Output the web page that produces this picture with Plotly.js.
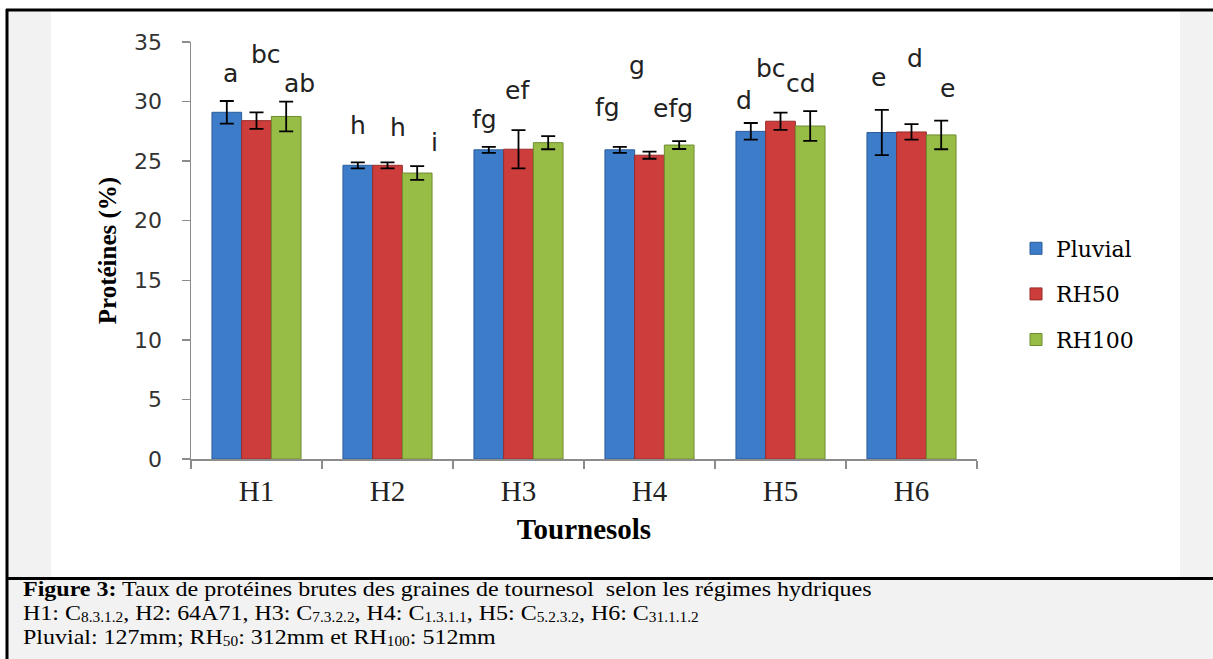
<!DOCTYPE html>
<html>
<head>
<meta charset="utf-8">
<script src="https://cdn.plot.ly/plotly-3.0.1.min.js"></script>
<style>
html,body{margin:0;padding:0;background:#fff;}
#wrap{position:relative;width:1213px;height:659px;overflow:hidden;}
#chart{position:absolute;left:0;top:0;width:1213px;height:659px;}
#caption{position:absolute;left:23px;top:577px;font-family:'Liberation Serif',serif;font-size:22px;line-height:24px;color:#000;white-space:pre;transform:scaleX(1.09);transform-origin:0 0;}
#caption sub{font-size:64%;vertical-align:-0.16em;line-height:0;}
</style>
</head>
<body>
<div id="wrap">
<div id="chart"></div>
<div id="caption"><div><b>Figure 3:</b> Taux de protéines brutes des graines de tournesol  selon les régimes hydriques</div><div>H1: C<sub>8.3.1.2</sub>, H2: 64A71, H3: C<sub>7.3.2.2</sub>, H4: C<sub>1.3.1.1</sub>, H5: C<sub>5.2.3.2</sub>, H6: C<sub>31.1.1.2</sub></div><div>Pluvial: 127mm; RH<sub>50</sub>: 312mm et RH<sub>100</sub>: 512mm</div></div>
</div>
<script>
// ---- data ----
const categories = ['H1', 'H2', 'H3', 'H4', 'H5', 'H6'];
const seriesNames = ['Pluvial', 'RH50', 'RH100'];
const pluvial    = [29.1, 24.65, 25.95, 25.95, 27.5, 27.4];
const pluvialErr = [0.95, 0.25, 0.25, 0.25, 0.7, 1.9];
const rh50       = [28.4, 24.65, 26.0, 25.5, 28.35, 27.45];
const rh50Err    = [0.7, 0.25, 1.6, 0.3, 0.72, 0.65];
const rh100      = [28.75, 24.0, 26.55, 26.35, 27.95, 27.2];
const rh100Err   = [1.25, 0.58, 0.55, 0.33, 1.25, 1.2];
const lettersPluvial = ['a', 'h', 'fg', 'fg', 'd', 'e'];
const lettersRH50    = ['bc', 'h', 'ef', 'g', 'bc', 'd'];
const lettersRH100   = ['ab', 'i', '', 'efg', 'cd', 'e'];
const yTicks = [0, 5, 10, 15, 20, 25, 30, 35];

// ---- label placement (layout, not data) ----
const labelDx = [
  [-0.20, -0.225, -0.26, -0.32, -0.28, -0.25],
  [0.07, 0.08, -0.01, -0.095, -0.07, 0.03],
  [0.33, 0.36, 0, 0.18, 0.16, 0.275]
];
const labelY = [
  [32.32, 28.02, 28.52, 29.53, 30.12, 32.05],
  [33.95, 27.85, 30.93, 33.05, 32.8, 33.58],
  [31.48, 26.6, 0, 29.39, 31.48, 31.06]
];

const values = [pluvial, rh50, rh100];
const errors = [pluvialErr, rh50Err, rh100Err];
const letters = [lettersPluvial, lettersRH50, lettersRH100];
const fills = ['#3d7cc9', '#cd3d3b', '#98bd47'];
const edges = ['#2a5c9a', '#982c2a', '#6e8c2f'];

const traces = seriesNames.map((name, i) => ({
  type: 'bar',
  name: name,
  x: categories,
  y: values[i],
  legendgroup: 'g' + i,
  marker: {color: fills[i], line: {color: edges[i], width: 1}},
  error_y: {type: 'data', array: errors[i], visible: true, color: '#000', thickness: 1.8, width: 7}
}));

// pixel -> paper helpers for the decorative frame
const L = 191, R = 977, T = 42, B = 459;
const px2x = p => (p - L) / (R - L);
const px2y = p => (B - p) / (B - T);

const annotations = [];
letters.forEach((arr, s) => {
  arr.forEach((t, c) => {
    if (!t) return;
    annotations.push({
      x: c + labelDx[s][c], y: labelY[s][c], xref: 'x', yref: 'y',
      text: t, showarrow: false, xanchor: 'center', yanchor: 'middle',
      font: {family: 'DejaVu Sans', size: 25, color: '#222'}
    });
  });
});

const shapes = [
  {type: 'rect', xref: 'paper', yref: 'paper', x0: px2x(8), x1: px2x(51), y0: px2y(578), y1: px2y(11), fillcolor: '#f2f2f2', line: {width: 0}, layer: 'below'},
  {type: 'rect', xref: 'paper', yref: 'paper', x0: px2x(1180), x1: px2x(1214), y0: px2y(578), y1: px2y(11), fillcolor: '#f2f2f2', line: {width: 0}, layer: 'below'},
  {type: 'rect', xref: 'paper', yref: 'paper', x0: px2x(8), x1: px2x(1214), y0: px2y(660), y1: px2y(578), fillcolor: '#f2f2f2', line: {width: 0}, layer: 'below'},
  {type: 'line', xref: 'paper', yref: 'paper', x0: px2x(6), x1: px2x(1214), y0: px2y(10), y1: px2y(10), line: {color: '#000', width: 3}},
  {type: 'line', xref: 'paper', yref: 'paper', x0: px2x(7), x1: px2x(7), y0: px2y(9), y1: px2y(660), line: {color: '#000', width: 3}},
  {type: 'line', xref: 'paper', yref: 'paper', x0: px2x(6), x1: px2x(1214), y0: px2y(578.5), y1: px2y(578.5), line: {color: '#000', width: 3}}
];

const layout = {
  width: 1213, height: 659,
  margin: {l: L, r: 1213 - R, t: T, b: 659 - B, pad: 0},
  paper_bgcolor: '#ffffff',
  plot_bgcolor: 'rgba(0,0,0,0)',
  barmode: 'group',
  bargap: 0.32,
  bargroupgap: 0,
  showlegend: true,
  legend: {
    x: px2x(1016), y: px2y(294), xanchor: 'left', yanchor: 'middle',
    font: {family: 'DejaVu Serif', size: 22, color: '#000'},
    tracegroupgap: 14, traceorder: 'grouped', bgcolor: 'rgba(0,0,0,0)'
  },
  xaxis: {
    type: 'category', automargin: false,
    showline: true, linecolor: '#8c8c8c', linewidth: 1.5,
    ticks: 'outside', tickson: 'boundaries', ticklen: 8, tickcolor: '#8c8c8c', tickwidth: 1.5,
    tickfont: {family: 'Liberation Serif', size: 29, color: '#222'},
    ticklabelstandoff: 6,
    showgrid: false, zeroline: false,
    title: {text: '<b>Tournesols</b>', font: {family: 'Liberation Serif', size: 29, color: '#000'}, standoff: 12}
  },
  yaxis: {
    range: [0, 35], automargin: false,
    tickmode: 'array', tickvals: yTicks, ticktext: yTicks.map(String),
    showline: true, linecolor: '#8c8c8c', linewidth: 1.5,
    ticks: 'outside', ticklen: 8, tickcolor: '#8c8c8c', tickwidth: 1.5,
    tickfont: {family: 'DejaVu Sans', size: 22, color: '#333'},
    ticklabelstandoff: 15,
    showgrid: false, zeroline: false,
    title: {text: '<b>Protéines (%)</b>', font: {family: 'Liberation Serif', size: 25, color: '#000'}, standoff: 10}
  },
  annotations: annotations,
  shapes: shapes
};

Plotly.newPlot('chart', traces, layout, {displayModeBar: false, staticPlot: true});
</script>
</body>
</html>
